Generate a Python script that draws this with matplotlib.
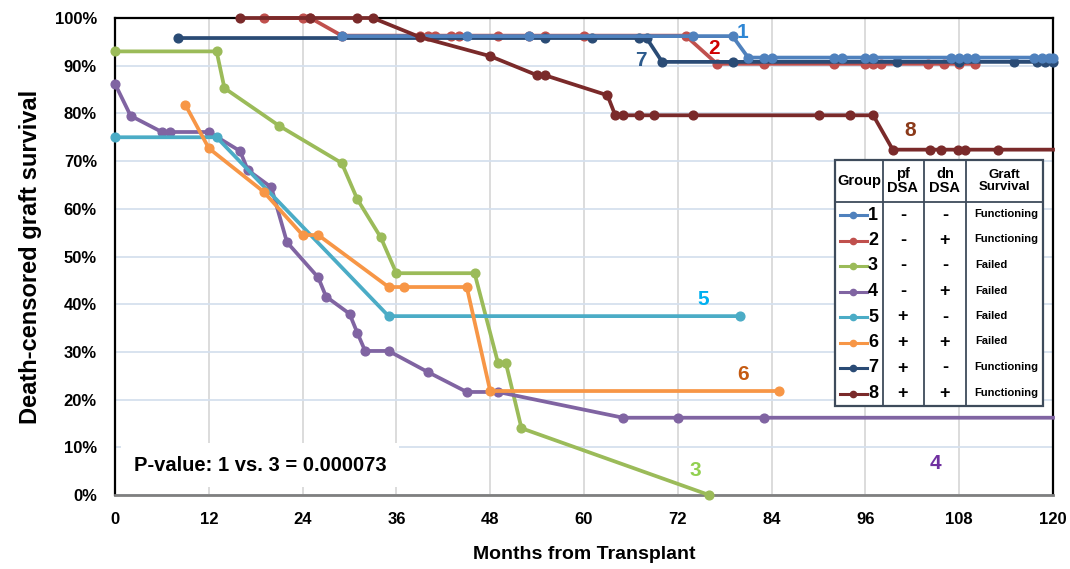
import matplotlib
matplotlib.use("Agg")
import matplotlib.pyplot as plt
from matplotlib.patches import Rectangle

plt.rcParams['font.family'] = ['Liberation Sans', 'DejaVu Sans']
plt.rcParams['font.weight'] = 'bold'

# months / survival (%) per group
g1_m = [29, 45, 53, 74, 79, 81, 83, 84, 92, 93, 96, 97, 107, 108, 109, 110, 117.6, 118.6, 119.5, 120]
g1_s = [96.2] * 5 + [91.7] * 15
g2_m = [19, 24, 25, 29, 39, 40, 41, 43, 44, 49, 53, 55, 60, 73, 77, 83, 92, 96, 97, 98, 104, 106, 108, 110]
g2_s = [100, 100, 100] + [96.3] * 11 + [90.4] * 10
g3_m = [0, 13, 14, 21, 29, 31, 34, 36, 46, 49, 50, 52, 76]
g3_s = [93, 93, 85.3, 77.4, 69.6, 62, 54, 46.5, 46.5, 27.7, 27.7, 14, 0]
g4_m = [0, 2, 6, 7, 12, 16, 17, 20, 22, 26, 27, 30, 31, 32, 35, 40, 45, 49, 65, 72, 83, 120]
g4_s = [86.2, 79.5, 76.1, 76.1, 76.1, 72.1, 68.1, 64.5, 53, 45.6, 41.6, 38, 34, 30.2, 30.2,
        25.8, 21.6, 21.6, 16.2, 16.2, 16.2, 16.2]
g5_m = [0, 13, 35, 80]
g5_s = [75, 75, 37.5, 37.5]
g6_m = [9, 12, 19, 24, 26, 35, 37, 45, 48, 85]
g6_s = [81.8, 72.7, 63.6, 54.5, 54.5, 43.6, 43.6, 43.6, 21.8, 21.8]
g7_m = [8, 55, 61, 67, 68, 70, 79, 100, 108, 115, 118, 119, 120]
g7_s = [95.8] * 5 + [90.8] * 8
g8_m = [16, 25, 31, 33, 39, 48, 54, 55, 63, 64, 65, 67, 69, 74, 90, 94, 97,
        99.5, 104.3, 105.7, 107.8, 108.7, 113, 120]
g8_s = [100, 100, 100, 100, 96, 92, 88, 88, 83.8] + [79.6] * 8 + [72.4] * 7

groups = ['1', '2', '3', '4', '5', '6', '7', '8']
line_cols = ['#4F81BD', '#C0504D', '#9BBB59', '#8064A2', '#4BACC6', '#F79646', '#2A4B75', '#7A2A2A']
label_cols = ['#2E86D4', '#D00000', '#92D050', '#7030A0', '#00B0F0', '#C55A11', '#2C5A8C', '#8B3A1A']
label_pos = [(80.3, 97), (76.6, 93.6), (74.3, 5.2), (105, 6.7), (75.2, 41), (80.3, 25.2), (67.3, 91), (101.7, 76.5)]
pf_dsa = ['-', '-', '-', '-', '+', '+', '+', '+']
dn_dsa = ['-', '+', '-', '+', '-', '+', '-', '+']
outcome = ['Functioning', 'Functioning', 'Failed', 'Failed', 'Failed', 'Failed', 'Functioning', 'Functioning']

data = {'1': (g1_m, g1_s), '2': (g2_m, g2_s), '3': (g3_m, g3_s), '4': (g4_m, g4_s),
        '5': (g5_m, g5_s), '6': (g6_m, g6_s), '7': (g7_m, g7_s), '8': (g8_m, g8_s)}

W, H = 1070, 569
fig = plt.figure(figsize=(W / 100, H / 100), dpi=100)
ax = fig.add_axes([115 / W, 1 - 495 / H, (1053 - 115) / W, (495 - 18) / H])

draw_order = ['3', '4', '5', '6', '2', '7', '1', '8']
for g in draw_order:
    i = groups.index(g)
    m, s = data[g]
    mev = slice(0, -1) if g in ('4', '8') else None
    ax.plot(m, s, color=line_cols[i], lw=2.7, marker='o', ms=6.3, markevery=mev,
            clip_on=False, zorder=3 + draw_order.index(g) * 0.1)

for i, g in enumerate(groups):
    ax.text(label_pos[i][0], label_pos[i][1], g, color=label_cols[i], fontsize=15,
            fontweight='bold', ha='center', va='center', zorder=5)

ax.set_xlim(0, 120)
ax.set_ylim(0, 100)
ax.set_xticks(range(0, 121, 12))
ax.set_yticks(range(0, 101, 10))
ax.set_yticklabels([f'{v}%' for v in range(0, 101, 10)])
ax.tick_params(length=0, labelsize=12)
ax.tick_params(axis='y', pad=13)
ax.tick_params(axis='x', pad=12)
for lab in ax.get_xticklabels() + ax.get_yticklabels():
    lab.set_fontweight('bold')
ax.xaxis.grid(True, color='#D9D9D9', lw=1.3)
ax.yaxis.grid(True, color='#D5E0EE', lw=1.3)
ax.set_axisbelow(True)
for side in ['left', 'top', 'right']:
    ax.spines[side].set_color('black')
    ax.spines[side].set_linewidth(1.6)
ax.spines['bottom'].set_color('#7F7F7F')
ax.spines['bottom'].set_linewidth(2)
ax.set_xlabel('Months from Transplant', fontsize=14, fontweight='bold', labelpad=14)
ax.set_ylabel('Death-censored graft survival', fontsize=17, fontweight='bold', labelpad=9)

ax.text(2.4, 6.2, 'P-value: 1 vs. 3 = 0.000073', fontsize=14.5, fontweight='bold',
        ha='left', va='center', zorder=6,
        bbox=dict(facecolor='white', edgecolor='none', pad=9))

# table, drawn in pixel coordinates of the picture
tx0, tx1, ty0, ty1 = 835, 1043, 160, 406
tab = fig.add_axes([tx0 / W, 1 - ty1 / H, (tx1 - tx0) / W, (ty1 - ty0) / H], zorder=10)
tab.set_xlim(tx0, tx1)
tab.set_ylim(ty1, ty0)
tab.axis('off')
tab.add_patch(Rectangle((tx0, ty0), tx1 - tx0, ty1 - ty0, facecolor='white',
                        edgecolor='#3E4B5B', lw=1.6, clip_on=False))
col_edges = [883, 924, 966]
for x in col_edges:
    tab.plot([x, x], [ty0, ty1], color='#3E4B5B', lw=1.3)
tab.plot([tx0, tx1], [202, 202], color='#3E4B5B', lw=1.3)
tab.text(859, 181, 'Group', fontsize=10.5, fontweight='bold', ha='center', va='center')
tab.text(903, 181, 'pf\nDSA', fontsize=10.5, fontweight='bold', ha='center', va='center', linespacing=1.0)
tab.text(945, 181, 'dn\nDSA', fontsize=10.5, fontweight='bold', ha='center', va='center', linespacing=1.0)
tab.text(1004, 181, 'Graft\nSurvival', fontsize=9.5, fontweight='bold', ha='center', va='center', linespacing=1.1)
for i, g in enumerate(groups):
    yc = 215 + i * 25.5
    tab.plot([840, 867], [yc, yc], color=line_cols[i], lw=2.2)
    tab.plot([853], [yc], color=line_cols[i], marker='o', ms=4.5)
    tab.text(873, yc, g, fontsize=13, fontweight='bold', ha='center', va='center')
    tab.text(903, yc, pf_dsa[i], fontsize=13, fontweight='bold', ha='center', va='center')
    tab.text(945, yc, dn_dsa[i], fontsize=13, fontweight='bold', ha='center', va='center')
    if outcome[i] == 'Failed':
        tab.text(975, yc - 1, outcome[i], fontsize=8, fontweight='bold', ha='left', va='center')
    else:
        tab.text(1006, yc - 1, outcome[i], fontsize=8, fontweight='bold', ha='center', va='center')

fig.savefig('out.png', dpi=100)
